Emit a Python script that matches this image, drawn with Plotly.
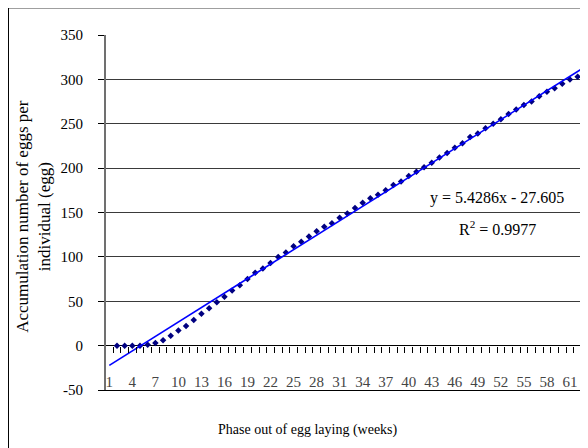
import plotly.graph_objects as go

weeks = list(range(1, 64))
eggs = [None, 0, 0, 0, 0, 1, 3, 6, 11, 17,
        22, 29, 36, 42, 49, 55, 62, 68, 75, 82,
        87, 93, 100, 105, 112, 117, 123, 129, 134, 138,
        144, 149, 155, 161, 166, 170, 175, 181, 185, 191,
        196, 201, 206, 212, 217, 223, 228, 235, 239, 245,
        250, 255, 261, 266, 271, 275, 281, 286, 290, 295,
        300, 303, 308]
slope = 5.4286
intercept = -27.605
r2 = 0.9977
x_tick_vals = list(range(1, 64, 3))
y_tick_vals = [-50, 0, 50, 100, 150, 200, 250, 300, 350]
y_tick_text = ["-50", "0", "50", "100", "150", "200", "250", "300", "350"]

trend = [slope * w + intercept for w in weeks]

FONT = "Liberation Serif"
fig = go.Figure()
fig.add_trace(go.Scatter(x=weeks, y=trend, mode="lines", xaxis="x2",
                         line=dict(color="#0000FF", width=1.6), hoverinfo="skip"))
fig.add_trace(go.Scatter(x=weeks, y=eggs, mode="markers",
                         marker=dict(symbol="diamond", size=5, color="#000080")))

xr = [0.57, 63.35]
fig.update_layout(
    width=580, height=440, showlegend=False,
    paper_bgcolor="white", plot_bgcolor="white",
    margin=dict(l=98, r=0, t=27, b=58),
    font=dict(family=FONT, size=14, color="black"),
    xaxis=dict(range=xr, tickmode="array", tickvals=x_tick_vals,
               ticktext=[str(v) for v in x_tick_vals],
               ticklabelposition="inside", ticklabeloverflow="allow",
               ticks="", showgrid=False,
               showline=True, linecolor="black", linewidth=1, zeroline=False,
               tickfont=dict(family=FONT, size=15)),
    xaxis2=dict(range=xr, overlaying="x", anchor="free", position=0.125,
                tickmode="array", tickvals=[w + 0.5 for w in weeks[:-1]],
                ticks="outside", ticklen=6, tickcolor="black", tickwidth=1,
                showticklabels=False, showgrid=False, showline=False, zeroline=False),
    yaxis=dict(range=[-50, 350], tickmode="array", tickvals=y_tick_vals,
               ticktext=y_tick_text,
               showgrid=True, gridcolor="#3a3a3a", gridwidth=1,
               zeroline=True, zerolinecolor="black", zerolinewidth=1,
               showline=True, linecolor="#707070", linewidth=2,
               ticks="outside", ticklen=6, tickcolor="black",
               ticklabelstandoff=12, tickfont=dict(family=FONT, size=15)),
)

fig.add_annotation(text="y = 5.4286x - 27.605", xref="x", yref="y",
                   x=51.5, y=166, showarrow=False,
                   font=dict(family=FONT, size=16))
fig.add_annotation(text="R<sup>2</sup> = 0.9977", xref="x", yref="y",
                   x=51.5, y=132, showarrow=False,
                   font=dict(family=FONT, size=16))
fig.add_annotation(text="Phase out of egg laying (weeks)", xref="paper", yref="paper",
                   x=0.419, y=-0.112, xanchor="center", yanchor="middle",
                   showarrow=False, font=dict(family=FONT, size=14))
fig.add_annotation(text="Accumulation number of eggs per<br>individual (egg)",
                   xref="paper", yref="paper", x=-0.152, y=0.49, textangle=-90,
                   xanchor="center", yanchor="middle",
                   showarrow=False, font=dict(family=FONT, size=17))
fig.add_shape(type="rect", xref="paper", yref="paper",
              x0=-0.2023, x1=1.2, y0=-0.4, y1=1.0764,
              line=dict(color="black", width=1), layer="below")

fig.write_html("out.html")
